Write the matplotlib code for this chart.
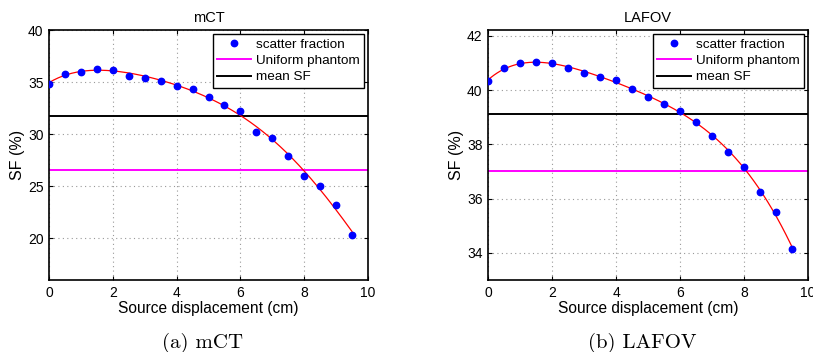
import matplotlib.pyplot as plt
import numpy as np
from matplotlib import rcParams

rcParams['font.family'] = ['Liberation Sans', 'DejaVu Sans']
rcParams['font.size'] = 10
rcParams['xtick.direction'] = 'in'
rcParams['ytick.direction'] = 'in'
rcParams['xtick.top'] = True
rcParams['ytick.right'] = True
rcParams['axes.linewidth'] = 1.2

# source displacement (cm)
disp = [0, 0.5, 1, 1.5, 2, 2.5, 3, 3.5, 4, 4.5, 5, 5.5, 6, 6.5, 7, 7.5, 8, 8.5, 9, 9.5]

sf_mct = [34.83, 35.82, 35.98, 36.30, 36.14, 35.63, 35.41, 35.15, 34.64, 34.35,
          33.56, 32.79, 32.22, 30.21, 29.60, 27.91, 26.03, 24.98, 23.19, 20.35]
uniform_mct = 26.57
mean_mct = 31.74

sf_lafov = [40.35, 40.82, 40.99, 41.03, 40.99, 40.83, 40.65, 40.47, 40.38, 40.06,
            39.76, 39.50, 39.23, 38.81, 38.31, 37.73, 37.16, 36.26, 35.50, 34.16]
uniform_lafov = 37.03
mean_lafov = 39.14

panels = [
    ('mCT', '(a) mCT', sf_mct, uniform_mct, mean_mct, (16, 40), [20, 25, 30, 35, 40]),
    ('LAFOV', '(b) LAFOV', sf_lafov, uniform_lafov, mean_lafov, (33, 42.22), [34, 36, 38, 40, 42]),
]
axes_pos = [[49 / 813, 72 / 352, 319 / 813, 250 / 352],
            [488 / 813, 72 / 352, 320 / 813, 250 / 352]]

fig = plt.figure(figsize=(8.13, 3.52), dpi=100)
x = np.array(disp)
xf = np.linspace(0, 9.5, 200)

for pos, (title, caption, sf, uni, mean, ylim, yticks) in zip(axes_pos, panels):
    ax = fig.add_axes(pos)
    coef = np.polyfit(x, sf, 5)
    ax.plot(xf, np.polyval(coef, xf), color='red', lw=0.9, zorder=3)
    ax.plot(x, sf, 'o', color='blue', ms=4.6, label='scatter fraction', zorder=4)
    ax.axhline(uni, color='#ff00ff', lw=1.4, label='Uniform phantom')
    ax.axhline(mean, color='black', lw=1.4, label='mean SF')
    ax.set_xlim(0, 10)
    ax.set_ylim(ylim)
    ax.set_yticks(yticks)
    ax.set_xticks([0, 2, 4, 6, 8, 10])
    ax.grid(True, ls=(0, (1, 3)), color='#999999', lw=0.8)
    ax.tick_params(length=3, width=0.8, labelsize=10, pad=4)
    ax.set_title(title, fontsize=10.5, pad=6)
    ax.set_xlabel('Source displacement (cm)', fontsize=11.2, labelpad=1)
    ax.set_ylabel('SF (%)', fontsize=11.5, labelpad=2)
    leg = ax.legend(loc='upper right', fontsize=9.7, handlelength=2.5,
                    fancybox=False, framealpha=1, edgecolor='black',
                    borderpad=0.3, labelspacing=0.3, handletextpad=0.4,
                    borderaxespad=0.3)
    leg.get_frame().set_linewidth(1.0)
    cx = pos[0] + pos[2] / 2 - 6 / 813
    fig.text(cx, 9 / 352, caption, ha='center', va='center',
             family='cmr10', fontsize=15)

fig.savefig('out.png', dpi=100)
